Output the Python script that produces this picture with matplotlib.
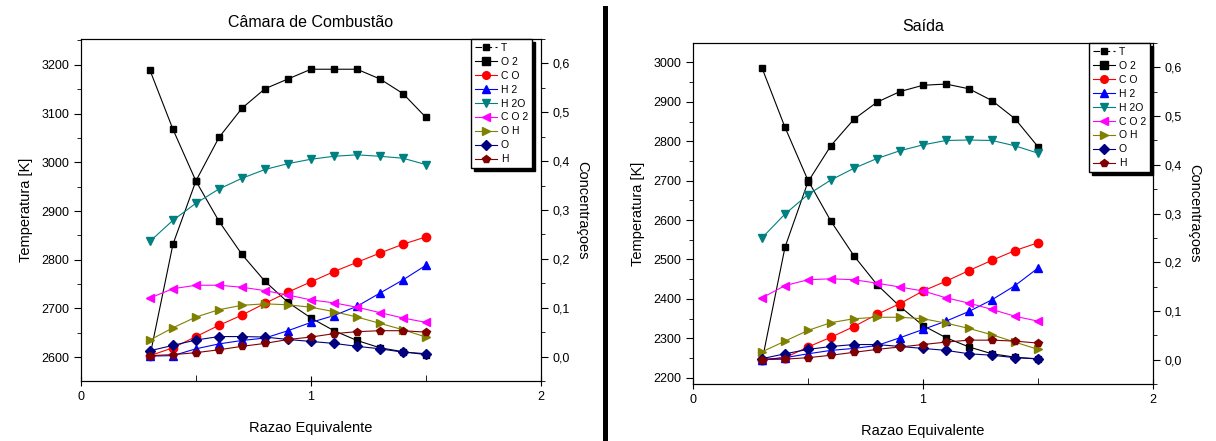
import matplotlib
matplotlib.use("Agg")
import matplotlib.pyplot as plt
from matplotlib.lines import Line2D
from matplotlib.ticker import MultipleLocator, FuncFormatter

plt.rcParams['font.family'] = ['Liberation Sans', 'DejaVu Sans']

razao = [0.3, 0.4, 0.5, 0.6, 0.7, 0.8, 0.9, 1.0, 1.1, 1.2, 1.3, 1.4, 1.5]

# Camara de combustao
camara_T   = [2603, 2832, 2962, 3051, 3111, 3151, 3171, 3191, 3191, 3191, 3171, 3141, 3092]
camara_O2  = [0.586, 0.465, 0.359, 0.277, 0.209, 0.154, 0.111, 0.079, 0.053, 0.033, 0.018, 0.010, 0.004]
camara_CO  = [0.002, 0.018, 0.041, 0.064, 0.085, 0.109, 0.132, 0.153, 0.174, 0.193, 0.212, 0.230, 0.245]
camara_H2  = [0.001, 0.002, 0.016, 0.026, 0.033, 0.038, 0.053, 0.070, 0.084, 0.103, 0.130, 0.157, 0.187]
camara_H2O = [0.236, 0.279, 0.314, 0.343, 0.365, 0.383, 0.395, 0.404, 0.410, 0.413, 0.410, 0.406, 0.393]
camara_CO2 = [0.120, 0.139, 0.146, 0.146, 0.142, 0.135, 0.126, 0.116, 0.110, 0.101, 0.090, 0.079, 0.070]
camara_OH  = [0.034, 0.059, 0.081, 0.096, 0.105, 0.108, 0.106, 0.101, 0.092, 0.081, 0.068, 0.055, 0.040]
camara_O   = [0.012, 0.023, 0.034, 0.041, 0.041, 0.040, 0.035, 0.031, 0.027, 0.021, 0.016, 0.009, 0.006]
camara_H   = [0.002, 0.004, 0.008, 0.014, 0.021, 0.027, 0.035, 0.040, 0.047, 0.051, 0.053, 0.053, 0.050]

# Saida
saida_T   = [2242, 2531, 2697, 2789, 2856, 2899, 2926, 2942, 2945, 2933, 2903, 2857, 2786]
saida_O2  = [0.599, 0.477, 0.368, 0.284, 0.213, 0.154, 0.109, 0.070, 0.045, 0.026, 0.012, 0.005, 0.001]
saida_CO  = [0.000, 0.004, 0.026, 0.046, 0.068, 0.093, 0.115, 0.141, 0.161, 0.183, 0.204, 0.224, 0.240]
saida_H2  = [0.000, 0.004, 0.012, 0.019, 0.023, 0.029, 0.045, 0.062, 0.079, 0.099, 0.123, 0.152, 0.188]
saida_H2O = [0.250, 0.299, 0.339, 0.369, 0.393, 0.413, 0.429, 0.441, 0.450, 0.451, 0.450, 0.439, 0.424]
saida_CO2 = [0.127, 0.152, 0.164, 0.166, 0.164, 0.157, 0.149, 0.141, 0.127, 0.116, 0.103, 0.089, 0.079]
saida_OH  = [0.016, 0.038, 0.060, 0.076, 0.084, 0.087, 0.087, 0.084, 0.075, 0.064, 0.051, 0.036, 0.021]
saida_O   = [0.002, 0.012, 0.021, 0.027, 0.031, 0.031, 0.027, 0.023, 0.019, 0.012, 0.009, 0.004, 0.002]
saida_H   = [0.000, 0.001, 0.004, 0.009, 0.015, 0.021, 0.026, 0.031, 0.036, 0.040, 0.040, 0.038, 0.034]

# (legend label, color, marker)
estilos = [
    ('O 2',  '#000000', 's'),
    ('C O',  '#FF0000', 'o'),
    ('H 2',  '#0000FF', '^'),
    ('H 2O', '#008080', 'v'),
    ('C O 2', '#FF00FF', '<'),
    ('O H',  '#808000', '>'),
    ('O',    '#000080', 'D'),
    ('H',    '#800000', 'p'),
]


def painel(rect, titulo, T, especies, ylim_T, leg_x):
    ax = fig.add_axes(rect)
    ax2 = ax.twinx()

    ax.plot(razao, T, color='k', marker='s', ms=5, lw=0.8)
    for serie, (label, cor, mk) in zip(especies, estilos):
        ms = 5 if mk in 'Ds' else 6
        ax2.plot(razao, serie, color=cor, marker=mk, ms=ms, lw=0.8)

    ax.set_xlim(0, 2)
    ax.set_ylim(*ylim_T)
    ax2.set_ylim(-0.05, 0.65)
    ax.xaxis.set_major_locator(MultipleLocator(1))
    ax.xaxis.set_minor_locator(MultipleLocator(0.5))
    ax.yaxis.set_major_locator(MultipleLocator(100))
    ax.yaxis.set_minor_locator(MultipleLocator(50))
    ax2.yaxis.set_major_locator(MultipleLocator(0.1))
    ax2.yaxis.set_minor_locator(MultipleLocator(0.05))
    ax2.yaxis.set_major_formatter(FuncFormatter(lambda v, p: f"{v:.1f}".replace('.', ',')))

    ax.tick_params(axis='x', which='major', direction='inout', length=7, labelsize=9)
    ax.tick_params(axis='x', which='minor', direction='in', length=4)
    ax.tick_params(axis='y', which='major', direction='out', length=5, labelsize=9)
    ax.tick_params(axis='y', which='minor', direction='out', length=3)
    ax2.tick_params(axis='y', which='major', direction='out', length=5, labelsize=9)
    ax2.tick_params(axis='y', which='minor', direction='out', length=3)

    ax.set_title(titulo, fontsize=11.5, pad=9)
    ax.set_xlabel('Razao Equivalente', fontsize=10.5, labelpad=13)
    ax.set_ylabel('Temperatura [K]', fontsize=10.5, labelpad=6)
    ax2.set_ylabel('Concentraçoes', fontsize=10.5, rotation=-90, labelpad=14)

    handles = [Line2D([], [], color='k', marker='s', ms=4.5, lw=0.8, ls=(0, (6, 3)))]
    labels = ['T']
    for label, cor, mk in estilos:
        handles.append(Line2D([], [], color=cor, marker=mk, ms=5.5, lw=0.8))
        labels.append(label)
    leg = ax2.legend(handles, labels, loc='upper right', bbox_to_anchor=(leg_x, 1.0),
                     borderaxespad=0, fontsize=7.5, labelspacing=0.38, handlelength=2.1,
                     handletextpad=0.4, borderpad=0.35, fancybox=False, framealpha=1,
                     edgecolor='k', shadow={'color': 'k', 'alpha': 1})
    leg.get_frame().set_linewidth(1)
    return ax


fig = plt.figure(figsize=(12.16, 4.41), dpi=100)

painel([0.0666, 0.136, 0.3783, 0.7755], 'Câmara de Combustão', camara_T,
       [camara_O2, camara_CO, camara_H2, camara_H2O, camara_CO2, camara_OH, camara_O, camara_H],
       (2551, 3253), 0.98)
painel([0.5699, 0.1293, 0.3783, 0.773], 'Saída', saida_T,
       [saida_O2, saida_CO, saida_H2, saida_H2O, saida_CO2, saida_OH, saida_O, saida_H],
       (2184, 3049), 0.993)

# barra preta separando os dois graficos
fig.add_artist(Line2D([605 / 1216, 605 / 1216], [0, 1 - 8 / 441], color='k', lw=3.6,
                      transform=fig.transFigure))

fig.savefig('out.png', dpi=100)
